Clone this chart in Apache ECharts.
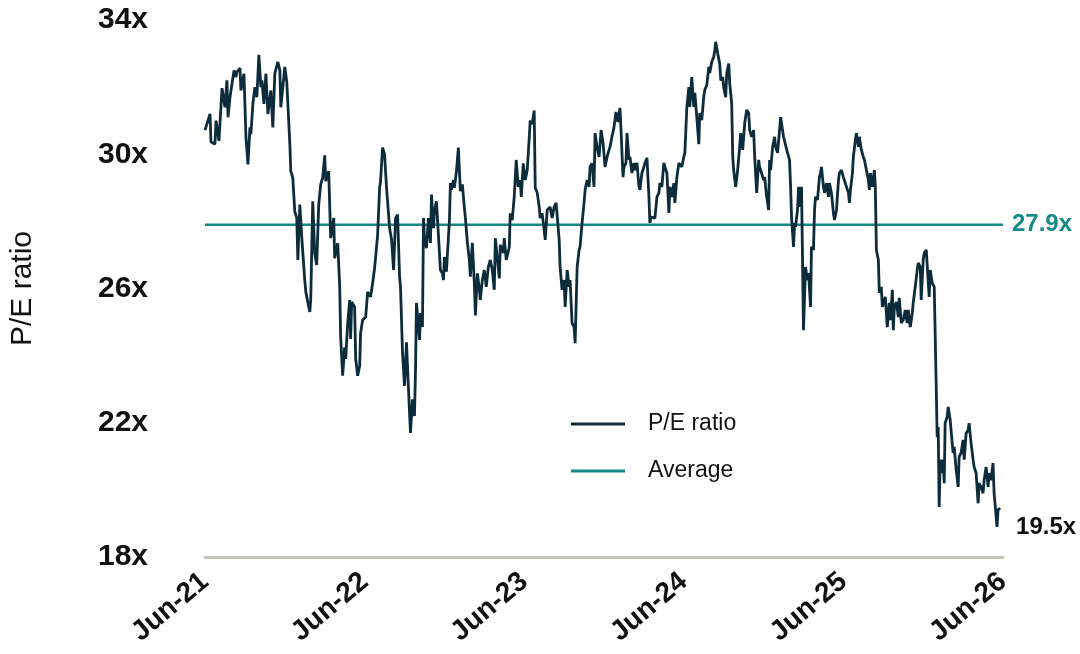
<!DOCTYPE html>
<html>
<head>
<meta charset="utf-8">
<script src="https://cdn.jsdelivr.net/npm/echarts@6/dist/echarts.min.js"></script>
<style>
  html, body { margin: 0; padding: 0; background: #ffffff; }
  #chart { width: 1080px; height: 654px; }
</style>
</head>
<body>
<div id="chart"></div>
<script>
// x = months since Jun-21, y = P/E ratio
const peData = [
[0,30.72],[0.38,31.2],[0.45,30.37],[0.75,30.3],[0.83,31.0],[1.05,30.4],[1.28,31.97],[1.5,31.4],[1.65,32.2],[1.73,31.1],
[1.88,31.7],[2.18,32.5],[2.33,32.3],[2.4,32.45],[2.63,32.57],[2.7,31.9],[2.93,32.4],[3.08,30.5],[3.23,29.7],[3.38,30.8],
[3.45,30.6],[3.6,31.5],[3.75,32.0],[3.9,31.7],[4.05,32.96],[4.2,32.0],[4.28,32.2],[4.43,31.5],[4.58,32.4],[4.73,31.2],
[4.95,31.9],[5.1,30.8],[5.25,32.4],[5.48,32.75],[5.63,32.5],[5.7,31.4],[6.0,32.6],[6.15,32.15],[6.38,30.3],[6.45,29.5],
[6.6,29.3],[6.75,28.3],[6.9,28.1],
[6.98,26.85],[7.13,28.5],[7.28,27.5],[7.5,26.25],[7.58,25.9],[7.73,25.6],[7.88,25.3],[7.95,25.66],[8.1,28.6],[8.25,27.05],
[8.4,26.7],[8.55,28.5],[8.7,29.1],[8.85,29.3],[9.0,29.97],[9.08,29.2],[9.3,29.5],[9.45,27.5],[9.68,28.1],[9.75,26.9],
[9.98,27.35],[10.13,26.05],[10.2,24.55],[10.35,23.4],[10.5,24.25],[10.58,23.9],[10.73,24.97],[10.88,25.66],[10.95,24.5],[11.03,25.6],
[11.25,25.45],[11.33,23.9],[11.48,23.4],[11.63,23.7],[11.7,24.67],[11.85,25.06],[12.08,25.15],[12.23,25.9],[12.45,25.75],[12.6,26.15],
[12.75,26.6],[12.83,26.6],[12.98,27.6],[13.13,29.0],[13.2,29.2],[13.35,30.2],[13.5,30.0],[13.65,29.0],[13.88,27.8],[14.03,27.45],
[14.18,26.55],[14.33,28.1],
[14.48,28.2],[14.63,26.35],[14.7,26.05],[14.85,24.1],[15.0,23.1],[15.15,24.4],[15.3,23.0],[15.45,21.7],[15.6,22.7],[15.75,22.2],
[15.83,23.6],[15.9,25.57],[16.13,24.47],[16.2,25.27],[16.35,24.85],[16.43,28.1],[16.5,27.5],[16.65,27.2],[16.8,28.1],[16.95,27.36],
[17.03,28.8],[17.18,27.8],[17.25,28.3],[17.4,28.6],[17.55,27.6],[17.7,26.55],[17.85,26.45],[17.93,26.25],[18.0,26.94],[18.15,26.5],
[18.38,28.04],[18.45,29.14],[18.53,28.94],[18.68,29.23],[18.75,29.0],[18.9,29.47],[19.05,30.2],[19.2,28.9],[19.35,29.1],[19.5,28.4],
[19.58,28.1],[19.73,27.36],[19.88,26.85],[19.95,26.35],[20.1,27.36],[20.25,26.16],[20.33,25.2],[20.48,26.45],[20.63,25.96],[20.7,25.66],
[20.85,26.25],[21.0,26.55],[21.15,26.05],[21.3,26.64],[21.45,26.85],[21.6,26.55],[21.75,25.96],[21.83,27.5],
[21.98,26.9],[22.13,26.3],[22.2,27.3],[22.43,27.06],[22.5,27.5],[22.65,26.85],[22.88,27.24],[22.95,28.24],[23.1,28.04],[23.25,28.73],
[23.4,29.83],[23.55,29.03],[23.7,29.23],[23.78,28.73],[23.93,29.73],[24.08,29.23],[24.23,29.53],[24.38,30.5],[24.45,31.0],[24.6,30.9],
[24.75,31.3],[24.83,29.0],[24.98,28.85],[25.13,28.43],[25.2,28.1],[25.35,28.24],[25.5,27.74],[25.58,27.45],[25.73,28.34],[25.95,28.43],
[26.1,28.1],[26.25,28.43],[26.4,28.55],[26.55,27.84],[26.63,27.45],[26.7,26.64],[26.85,25.96],[27.0,26.25],[27.08,25.45],[27.23,26.55],
[27.38,26.05],[27.45,26.25],[27.6,24.97],[27.75,24.85],[27.83,24.37],[27.98,26.64],[28.13,27.15],[28.2,27.24],[28.35,27.95],[28.5,28.55],
[28.58,28.94],[28.73,29.23],[28.88,29.03],[28.95,29.62],[29.1,29.73],[29.25,29.03],[29.33,30.63],
[29.48,30.2],[29.63,29.92],[29.78,30.72],[29.93,30.33],[30.08,29.62],[30.23,29.92],[30.38,30.13],[30.45,30.22],[30.6,30.52],[30.75,30.8],
[30.9,31.26],[31.05,30.96],[31.2,31.38],[31.28,30.72],[31.43,29.32],[31.5,29.62],[31.65,29.74],[31.73,30.63],[31.88,29.83],[31.95,29.92],
[32.1,29.44],[32.25,29.74],[32.33,29.53],[32.48,29.74],[32.63,29.03],[32.7,28.94],[32.85,29.44],[33.0,29.62],[33.08,29.74],[33.23,29.89],
[33.38,28.73],[33.45,27.95],[33.53,28.13],[33.68,28.13],[33.83,28.1],[33.98,28.73],[34.13,28.85],[34.2,29.14],[34.35,29.03],[34.5,29.74],
[34.58,29.62],[34.73,29.44],[34.88,28.25],[34.95,29.03],[35.1,28.73],[35.25,29.14],[35.33,28.55],[35.48,29.32],[35.63,29.74],[35.7,29.74],
[35.85,29.62],[36.0,29.92],[36.08,30.04],[36.23,31.41],[36.38,32.0],[36.45,31.41],[36.6,32.3],[36.75,31.41],[36.83,31.83],
[36.98,31.1],[37.13,30.3],[37.2,31.23],[37.35,31.02],[37.5,31.71],[37.58,31.92],[37.73,32.06],[37.88,32.6],[37.95,32.42],[38.1,32.75],
[38.25,32.9],[38.33,33.1],[38.4,33.35],[38.55,33.0],[38.7,32.7],[38.78,32.2],[38.93,32.3],[39.0,32.0],[39.15,31.7],[39.23,32.42],
[39.38,32.7],[39.45,32.12],[39.6,31.53],[39.68,29.92],[39.75,29.53],[39.9,29.03],[40.05,29.53],[40.2,30.22],[40.28,30.63],[40.43,30.13],
[40.58,30.93],[40.73,31.32],[40.88,31.23],[40.95,30.72],[41.1,30.52],[41.25,30.72],[41.33,29.92],[41.48,28.85],[41.63,29.83],[41.7,29.62],
[41.85,29.44],[42.0,29.23],[42.08,29.32],[42.23,28.73],[42.38,28.34],[42.45,29.83],[42.53,29.53],[42.68,30.22],[42.83,30.52],[42.9,30.22],
[43.05,30.04],[43.2,30.72],[43.28,31.11],[43.43,31.11],[43.5,30.52],[43.65,30.52],[43.8,30.04],[43.95,29.83],[44.03,29.03],[44.1,28.13],
[44.25,27.24],[44.33,27.95],[44.4,27.84],
[44.55,28.34],[44.63,29.03],[44.7,28.43],[44.85,29.03],[44.93,26.76],[45.0,24.76],[45.15,26.64],[45.3,26.25],[45.38,26.46],[45.53,25.45],
[45.6,27.24],[45.75,27.15],[45.83,28.34],[45.9,28.73],[46.05,28.64],[46.2,29.32],[46.28,29.44],[46.35,29.62],[46.5,29.03],[46.58,28.85],
[46.73,29.14],[46.88,28.73],[46.95,29.14],[47.1,28.85],[47.25,28.25],[47.33,28.04],[47.48,28.34],[47.63,29.23],[47.7,29.44],[47.85,29.53],
[48.0,29.32],[48.08,29.32],[48.23,29.03],[48.38,28.85],[48.45,28.55],[48.53,28.94],[48.68,29.44],[48.75,29.92],[48.9,30.43],[48.98,30.63],
[49.13,30.22],[49.2,30.52],[49.35,30.13],[49.5,29.92],[49.58,29.83],[49.73,29.53],[49.88,29.23],[49.95,28.94],[50.03,29.44],[50.18,29.03],
[50.33,29.53],[50.4,29.03],[50.48,27.15],[50.63,26.85],[50.7,25.87],[50.85,26.05],[50.93,25.45],[51.0,25.57],[51.15,25.75],[51.3,24.85],
[51.45,25.57],[51.53,25.06],[51.68,25.96],[51.75,24.76],[51.83,25.45],
[51.98,25.6],[52.13,25.15],[52.2,25.72],[52.35,24.97],[52.5,25.06],[52.65,25.36],[52.8,24.97],[52.88,25.36],[53.03,24.85],[53.18,25.27],
[53.25,25.57],[53.4,26.05],[53.55,26.55],[53.63,26.76],[53.78,26.64],[53.85,25.66],[54.0,26.85],[54.08,27.06],[54.23,27.15],[54.38,27.15],
[54.45,25.75],[54.53,26.55],[54.68,26.16],[54.83,26.05],[54.9,26.05],[54.98,23.07],[55.05,21.57],[55.13,21.87],[55.2,19.49],[55.28,20.9],
[55.43,20.5],[55.5,20.9],[55.58,20.2],[55.65,21.99],[55.8,22.17],[55.88,22.47],[56.03,22.08],[56.18,21.4],[56.25,21.1],[56.33,21.28],
[56.48,20.59],[56.63,20.09],[56.7,20.98],[56.85,21.1],[57.0,21.49],[57.08,20.9],[57.23,21.69],[57.38,21.78],[57.45,21.99],[57.6,21.4],
[57.75,20.9],[57.83,20.68],[57.98,20.5],[58.13,19.6],[58.2,20.2],[58.35,20.09],[58.5,19.9],[58.58,20.29],[58.73,20.68],[58.88,20.09],
[58.95,20.5],[59.1,20.29],[59.25,20.8],[59.33,19.9],[59.4,19.6],[59.55,18.9],[59.63,19.4],[59.78,19.46]
];
const averagePE = 27.9;
const xTickMonths = [0, 12, 24, 36, 48, 60];
const xTickLabels = ['Jun-21', 'Jun-22', 'Jun-23', 'Jun-24', 'Jun-25', 'Jun-26'];
const yTicks = [18, 22, 26, 30, 34];

const FONT = '"Liberation Sans", Arial, Helvetica, sans-serif';
const PE_COLOR = '#0c2b3b';
const AVG_COLOR = '#138a86';

const chart = echarts.init(document.getElementById('chart'), null, { renderer: 'canvas' });
chart.setOption({
  animation: false,
  backgroundColor: '#ffffff',
  grid: { left: 203, right: 77, top: 20, bottom: 97, containLabel: false },
  legend: {
    orient: 'vertical',
    left: 566,
    top: 407,
    icon: 'rect',
    itemWidth: 54,
    itemHeight: 3,
    itemGap: 23,
    textStyle: { fontFamily: FONT, fontSize: 23, color: '#111111', padding: [0, 0, 0, 18], lineHeight: 24 },
    data: ['P/E ratio', 'Average']
  },
  xAxis: {
    type: 'value',
    min: 0,
    max: 60,
    interval: 12,
    axisLine: { show: true, lineStyle: { color: '#c6c6bd', width: 3 } },
    axisTick: { show: false },
    splitLine: { show: false },
    axisLabel: {
      rotate: 40,
      margin: 21,
      fontFamily: FONT,
      fontWeight: 'bold',
      fontSize: 28,
      color: '#111111',
      formatter: function (v) {
        const i = xTickMonths.indexOf(v);
        return i >= 0 ? xTickLabels[i] : '';
      }
    }
  },
  yAxis: {
    type: 'value',
    min: 18,
    max: 34,
    interval: 4,
    name: 'P/E ratio',
    nameLocation: 'middle',
    nameGap: 167,
    nameRotate: 90,
    nameTextStyle: { fontFamily: FONT, fontSize: 30, color: '#111111' },
    axisLine: { show: false },
    axisTick: { show: false },
    splitLine: { show: false },
    axisLabel: {
      margin: 57,
      fontFamily: FONT,
      fontWeight: 'bold',
      fontSize: 30,
      color: '#111111',
      formatter: function (v) { return yTicks.indexOf(v) >= 0 ? v + 'x' : ''; }
    }
  },
  series: [
    {
      name: 'P/E ratio',
      type: 'line',
      data: peData,
      showSymbol: false,
      symbol: 'none',
      lineStyle: { color: PE_COLOR, width: 2.8 },
      itemStyle: { color: PE_COLOR },
      z: 3,
      endLabel: {
        show: true,
        offset: [8, 19],
        fontFamily: FONT,
        fontWeight: 'bold',
        fontSize: 24,
        color: '#111111',
        formatter: function (p) { return p.value[1].toFixed(1) + 'x'; }
      }
    },
    {
      name: 'Average',
      type: 'line',
      data: [[0, averagePE], [60, averagePE]],
      showSymbol: false,
      symbol: 'none',
      lineStyle: { color: AVG_COLOR, width: 2.5 },
      itemStyle: { color: AVG_COLOR },
      z: 2,
      endLabel: {
        show: true,
        distance: 9,
        fontFamily: FONT,
        fontWeight: 'bold',
        fontSize: 24,
        color: AVG_COLOR,
        formatter: function () { return averagePE.toFixed(1) + 'x'; }
      }
    }
  ]
});
</script>
</body>
</html>
